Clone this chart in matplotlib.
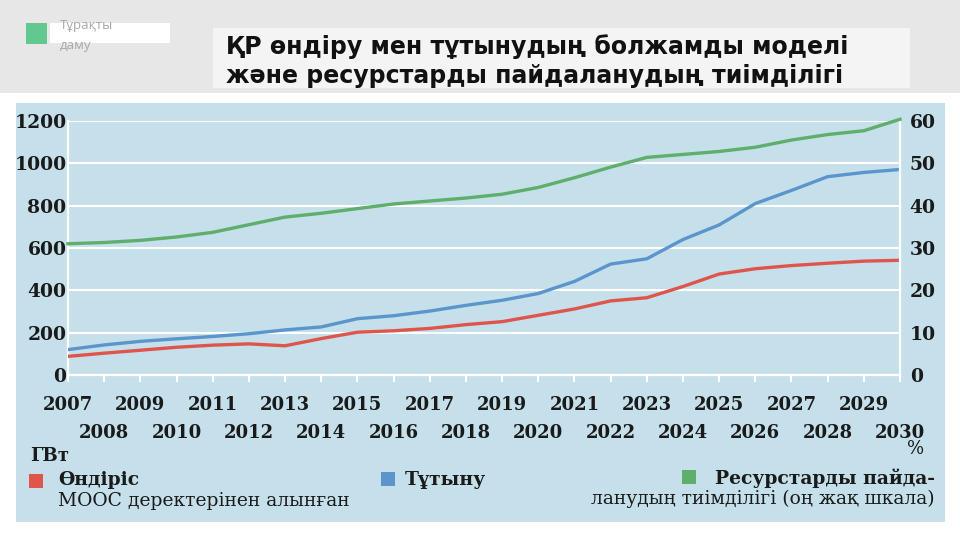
import numpy as np
import matplotlib
matplotlib.use("Agg")
from matplotlib import pyplot as plt
from matplotlib.patches import Rectangle

years = list(range(2007, 2031))
# ГВт, left scale
production = [88, 103, 117, 131, 141, 147, 138, 172, 202, 209, 220, 238,
              252, 282, 312, 350, 365, 418, 477, 502, 517, 528, 538, 542]
consumption = [120, 142, 159, 171, 182, 195, 213, 227, 266, 280, 302, 329,
               353, 385, 442, 524, 549, 640, 709, 810, 872, 937, 957, 971]
# %, right scale
efficiency = [31.0, 31.3, 31.8, 32.6, 33.7, 35.5, 37.3, 38.2, 39.3, 40.4, 41.1, 41.8,
              42.7, 44.3, 46.6, 49.1, 51.4, 52.1, 52.8, 53.8, 55.5, 56.8, 57.7, 60.4]
left_ticks = [0, 200, 400, 600, 800, 1000, 1200]
right_ticks = [0, 10, 20, 30, 40, 50, 60]

title = "ҚР өндіру мен тұтынудың болжамды моделі\nжәне ресурстарды пайдаланудың тиімділігі"

red = '#e0554b'
blue = '#5b95cc'
green = '#5fae6c'
panel = '#c5e0eb'

W, H = 960, 540
fig = plt.figure(figsize=(9.6, 5.4), dpi=100)
fig.patch.set_facecolor('white')

def px(x, y, w, h):
    # pixel box (top-left origin) -> figure fraction
    return [x / W, 1 - (y + h) / H, w / W, h / H]

def rect(x, y, w, h, c, z=-2):
    fig.patches.append(Rectangle((x / W, 1 - (y + h) / H), w / W, h / H,
                                 transform=fig.transFigure, facecolor=c,
                                 edgecolor='none', zorder=z))

# header strip
rect(0, 0, W, 93, '#e7e7e7')
rect(26, 23, 21, 21, '#63c88f', -1)
rect(50, 23, 120, 20, 'white', -1)
fig.text(60 / W, 1 - 26 / H, "Тұрақты", fontsize=9.5, color='#a8a8a8', family='Open Sans',
         va='center', ha='left')
fig.text(60 / W, 1 - 45 / H, "даму", fontsize=9.5, color='#a8a8a8', family='Open Sans',
         va='center', ha='left')
rect(213, 28, 697, 60, '#f4f4f4', -1)
fig.text(226 / W, 1 - 61 / H, title, fontsize=17, fontweight='bold', color='#111111',
         family='DejaVu Sans', va='center', ha='left', linespacing=1.25)

# scanned panel
rect(16, 103, 929, 419, panel)

ax = fig.add_axes(px(68, 121, 832, 254))
ax.set_facecolor(panel)
ax.plot(years, production, color=red, lw=2.4, zorder=3)
ax.plot(years, consumption, color=blue, lw=2.4, zorder=3)
ax.set_xlim(2007, 2030)
ax.set_ylim(0, 1200)
ax.set_yticks(left_ticks)
ax.grid(axis='y', color='white', lw=1.5)
for s in ax.spines.values():
    s.set_visible(False)
for side in ('left', 'bottom'):
    ax.spines[side].set_visible(True)
    ax.spines[side].set_color('white')
    ax.spines[side].set_linewidth(1.6)

serif = 'DejaVu Serif'
ax.set_xticks(years)
ax.set_xticklabels([str(y) for y in years], fontsize=13, fontweight='bold', family=serif,
                   color='#1a1a1a')
for i, t in enumerate(ax.xaxis.get_major_ticks()):
    t.set_pad(10 if i % 2 == 0 else 30)
ax.tick_params(axis='x', direction='out', length=5, width=1.5, color='white')
ax.set_yticklabels([str(v) for v in left_ticks], fontsize=13.5, fontweight='bold', family=serif,
                   color='#1a1a1a')
ax.tick_params(axis='y', length=0, pad=1)

ax2 = ax.twinx()
ax2.plot(years, efficiency, color=green, lw=2.4, zorder=3, clip_on=False)
ax2.set_ylim(0, 60)
ax2.set_yticks(right_ticks)
ax2.set_yticklabels([str(v) for v in right_ticks], fontsize=13.5, fontweight='bold', family=serif,
                    color='#1a1a1a')
ax2.tick_params(axis='y', length=0, pad=7)
for s in ax2.spines.values():
    s.set_visible(False)
ax2.spines['right'].set_visible(True)
ax2.spines['right'].set_color('white')
ax2.spines['right'].set_linewidth(1.6)

# unit labels
fig.text(30 / W, 1 - 456 / H, "ГВт", fontsize=13, fontweight='bold', family=serif,
         color='#1a1a1a', va='center', ha='left')
fig.text(916 / W, 1 - 449 / H, "%", fontsize=13, family=serif,
         color='#1a1a1a', va='center', ha='center')

# legend
rect(29, 474, 14, 14, red, -1)
fig.text(58 / W, 1 - 480 / H, "Өндіріс", fontsize=13.5, fontweight='bold', family=serif,
         color='#1a1a1a', va='center', ha='left')
fig.text(58 / W, 1 - 501 / H, "МООС деректерінен алынған", fontsize=13.5, family=serif,
         color='#1a1a1a', va='center', ha='left')
rect(381, 472, 14, 14, blue, -1)
fig.text(405 / W, 1 - 480 / H, "Тұтыну", fontsize=13.5, fontweight='bold', family=serif,
         color='#1a1a1a', va='center', ha='left')
rect(682, 470, 14, 14, green, -1)
fig.text(935 / W, 1 - 478 / H, "Ресурстарды пайда-", fontsize=13.5, fontweight='bold',
         family=serif, color='#1a1a1a', va='center', ha='right')
fig.text(935 / W, 1 - 499 / H, "ланудың тиімділігі (оң жақ шкала)", fontsize=13.5,
         family=serif, color='#1a1a1a', va='center', ha='right')

fig.savefig('out.png', dpi=100, facecolor=fig.get_facecolor())
